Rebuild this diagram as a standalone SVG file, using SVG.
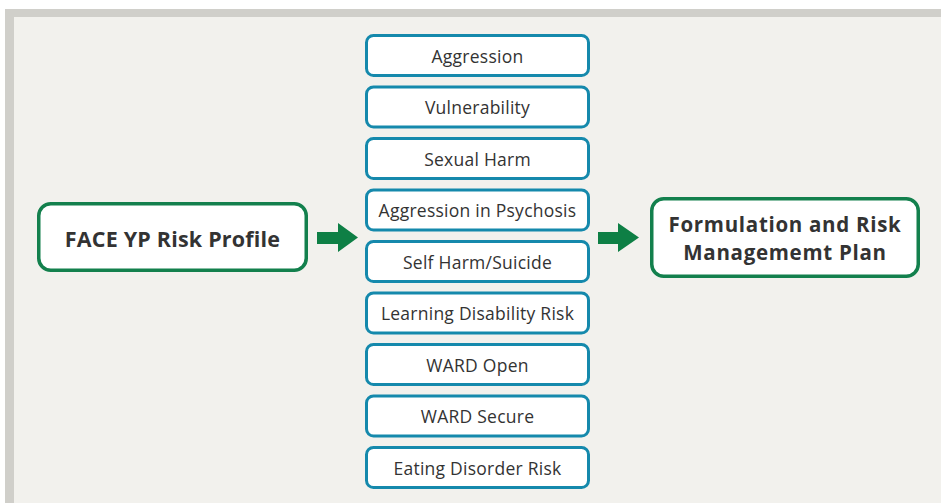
<svg xmlns="http://www.w3.org/2000/svg" width="941" height="503" viewBox="0 0 941 503">
<style>
.bg{fill:#d0cfca}
.panel{fill:#f2f1ed}
.item rect{fill:#ffffff;stroke:#1589ac;stroke-width:3}
.item text{font-family:"Open Sans","Noto Sans","Liberation Sans",sans-serif;font-size:17.5px;letter-spacing:0.25px;fill:#333333;text-anchor:middle}
.main rect{fill:#ffffff;stroke:#13804d;stroke-width:3.5}
.main text{font-family:"Open Sans","Noto Sans","Liberation Sans",sans-serif;font-size:21.5px;letter-spacing:0.2px;font-weight:bold;fill:#333333;text-anchor:middle}
.main text.two{font-size:20.5px;letter-spacing:0.7px}
.arrow{fill:#0e7f45}
</style>
<rect x="0" y="0" width="941" height="503" fill="#ffffff"/>
<rect class="bg" x="5" y="9" width="936" height="494"/>
<rect class="panel" x="14" y="17" width="927" height="486"/>

<g id="face-yp" class="main">
<rect x="38.75" y="203.75" width="267.5" height="66.5" rx="12"/>
<text x="172.5" y="246.5">FACE YP Risk Profile</text>
</g>

<g id="formulation" class="main">
<rect x="651.75" y="198.75" width="266.5" height="77.5" rx="12"/>
<text class="two" x="785" y="231.5">Formulation and Risk</text>
<text class="two" x="785" y="259.5">Managememt Plan</text>
</g>

<g id="aggression" class="item"><rect x="366.5" y="35.5" width="222" height="40" rx="7"/><text x="477.5" y="62.5">Aggression</text></g>
<g id="vulnerability" class="item"><rect x="366.5" y="87" width="222" height="40" rx="7"/><text x="477.5" y="114">Vulnerability</text></g>
<g id="sexual-harm" class="item"><rect x="366.5" y="138.5" width="222" height="40" rx="7"/><text x="477.5" y="165.5">Sexual Harm</text></g>
<g id="aggression-psychosis" class="item"><rect x="366.5" y="190" width="222" height="40" rx="7"/><text x="477.5" y="217">Aggression in Psychosis</text></g>
<g id="self-harm" class="item"><rect x="366.5" y="241.5" width="222" height="40" rx="7"/><text x="477.5" y="268.5">Self Harm/Suicide</text></g>
<g id="learning-disability" class="item"><rect x="366.5" y="293" width="222" height="40" rx="7"/><text x="477.5" y="320">Learning Disability Risk</text></g>
<g id="ward-open" class="item"><rect x="366.5" y="344.5" width="222" height="40" rx="7"/><text x="477.5" y="371.5">WARD Open</text></g>
<g id="ward-secure" class="item"><rect x="366.5" y="396" width="222" height="40" rx="7"/><text x="477.5" y="423">WARD Secure</text></g>
<g id="eating-disorder" class="item"><rect x="366.5" y="447.5" width="222" height="40" rx="7"/><text x="477.5" y="474.5">Eating Disorder Risk</text></g>

<g id="connectors">
<polygon class="arrow" points="317,232 338,232 338,223 358,237.5 338,252 338,244 317,244"/>
<polygon class="arrow" points="598,232 618,232 618,223 639,237.5 618,252 618,244 598,244"/>
</g>
</svg>
